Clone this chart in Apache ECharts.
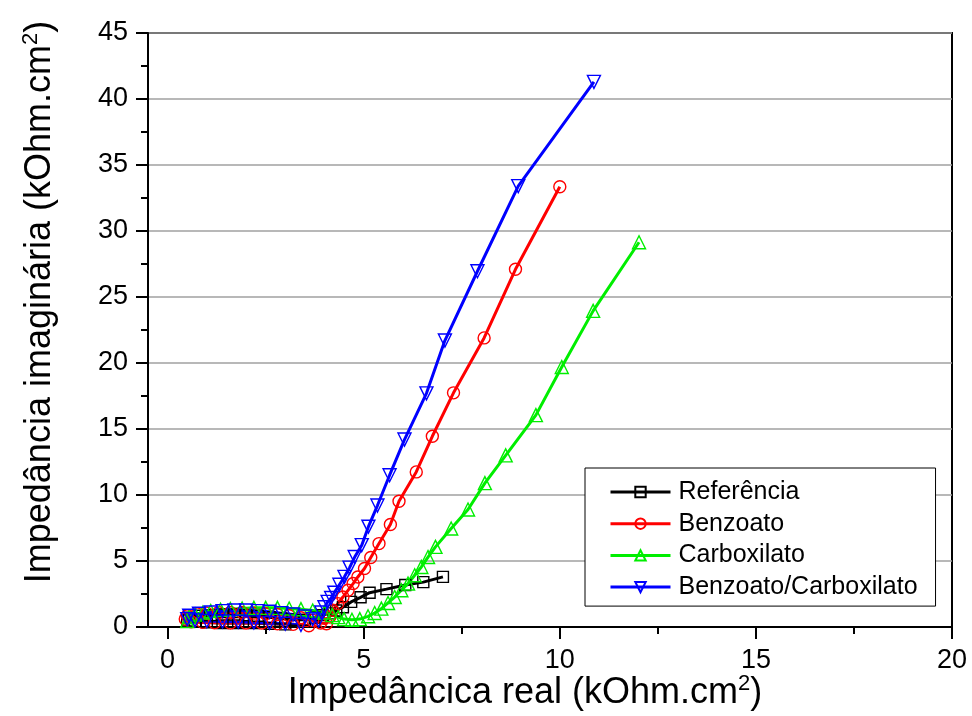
<!DOCTYPE html>
<html>
<head>
<meta charset="utf-8">
<script src="https://cdn.jsdelivr.net/npm/echarts@6/dist/echarts.min.js"></script>
<style>
  html, body { margin: 0; padding: 0; background: #fff; }
  #chart { width: 972px; height: 716px; }
</style>
</head>
<body>
<div id="chart"></div>
<script>
// Referência
const refX = [3.0, 2.6, 2.2, 1.8, 1.4, 1.0, 0.7, 0.5, 0.55, 0.8, 1.1, 1.4, 1.7, 2.0, 2.3, 2.6, 2.9, 3.2, 3.5, 3.75, 3.95, 4.13, 4.3, 4.47, 4.68, 4.92, 5.15, 5.58, 6.06, 6.52, 7.02];
const refY = [0.2, 0.25, 0.3, 0.3, 0.3, 0.35, 0.4, 0.5, 0.7, 0.85, 0.9, 0.95, 0.95, 0.9, 0.85, 0.75, 0.65, 0.55, 0.55, 0.7, 0.9, 1.03, 1.25, 1.5, 1.9, 2.25, 2.6, 2.87, 3.18, 3.4, 3.8];
// Benzoato
const benX = [3.6, 3.2, 2.8, 2.4, 2.0, 1.6, 1.2, 0.9, 0.6, 0.45, 0.5, 0.75, 1.0, 1.3, 1.6, 1.9, 2.2, 2.5, 2.8, 3.1, 3.4, 3.7, 3.9, 4.05, 4.13, 4.21, 4.34, 4.47, 4.6, 4.73, 4.85, 5.02, 5.18, 5.39, 5.68, 5.9, 6.34, 6.75, 7.29, 8.07, 8.87, 10.0];
const benY = [0.1, 0.2, 0.25, 0.3, 0.3, 0.3, 0.32, 0.35, 0.4, 0.6, 0.85, 1.0, 1.05, 1.1, 1.1, 1.1, 1.05, 1.0, 0.95, 0.85, 0.7, 0.5, 0.3, 0.25, 0.76, 1.27, 1.77, 2.27, 2.78, 3.29, 3.79, 4.43, 5.26, 6.32, 7.76, 9.53, 11.75, 14.45, 17.74, 21.9, 27.1, 33.35];
// Carboxilato
const carX = [0.5, 0.55, 0.7, 0.9, 1.1, 1.35, 1.6, 1.9, 2.2, 2.5, 2.8, 3.1, 3.4, 3.7, 4.0, 4.2, 4.35, 4.5, 4.7, 4.9, 5.11, 5.28, 5.45, 5.62, 5.79, 5.96, 6.13, 6.3, 6.47, 6.64, 6.83, 7.23, 7.66, 8.09, 8.62, 9.39, 10.05, 10.85, 12.02];
const carY = [0.45, 0.75, 0.95, 1.1, 1.2, 1.3, 1.35, 1.4, 1.45, 1.45, 1.45, 1.4, 1.35, 1.25, 1.1, 0.9, 0.75, 0.6, 0.55, 0.6, 0.81, 1.06, 1.39, 1.82, 2.27, 2.78, 3.29, 3.92, 4.55, 5.3, 6.07, 7.46, 8.9, 10.9, 13.0, 16.05, 19.7, 23.95, 29.15];
// Benzoato/Carboxilato
const bcX = [3.4, 3.0, 2.6, 2.2, 1.8, 1.4, 1.0, 0.7, 0.5, 0.55, 0.8, 1.1, 1.4, 1.7, 2.0, 2.3, 2.6, 2.9, 3.2, 3.5, 3.7, 3.85, 3.92, 4.0, 4.08, 4.17, 4.25, 4.38, 4.51, 4.64, 4.77, 4.95, 5.12, 5.35, 5.66, 6.04, 6.6, 7.07, 7.9, 8.94, 10.87];
const bcY = [0.15, 0.25, 0.3, 0.35, 0.4, 0.42, 0.45, 0.5, 0.6, 0.85, 1.0, 1.1, 1.2, 1.25, 1.25, 1.2, 1.15, 1.05, 0.95, 0.8, 0.6, 0.5, 1.1, 1.5, 1.9, 2.2, 2.6, 3.2, 3.8, 4.5, 5.3, 6.2, 7.6, 9.2, 11.5, 14.2, 17.7, 21.7, 26.95, 33.4, 41.3];

const xMajor = [0, 5, 10, 15, 20];
const xMinor = [2.5, 7.5, 12.5, 17.5];
const yMinor = [2.5, 7.5, 12.5, 17.5, 22.5, 27.5, 32.5, 37.5, 42.5];

const font = "'Liberation Sans', Arial, sans-serif";
const zip = (xs, ys) => xs.map((x, i) => [x, ys[i]]);

function makeSeries(name, xs, ys, color, symbol, size) {
  return {
    name: name,
    type: 'line',
    data: zip(xs, ys),
    symbol: symbol,
    symbolSize: size,
    showAllSymbol: true,
    xAxisIndex: 0,
    yAxisIndex: 0,
    lineStyle: { color: color, width: 3 },
    itemStyle: { color: 'rgba(0,0,0,0)', borderColor: color, borderWidth: 1.4 },
    emphasis: { disabled: true },
    animation: false
  };
}

const chart = echarts.init(document.getElementById('chart'));
const option = {
  backgroundColor: '#fff',
  animation: false,
  grid: { left: 148, right: 20, top: 33, bottom: 89, show: true, borderColor: '#000', borderWidth: 2, backgroundColor: 'transparent' },
  legend: {
    orient: 'vertical',
    left: 585,
    top: 468,
    padding: [9, 18, 4, 24],
    itemWidth: 60,
    itemHeight: 13,
    itemGap: 1.7,
    borderColor: '#000',
    borderWidth: 1,
    backgroundColor: '#fff',
    lineStyle: { width: 3 },
    textStyle: { fontFamily: font, fontSize: 25, color: '#000', lineHeight: 30, padding: [0, 0, 0, 3] },
    data: ['Referência', 'Benzoato', 'Carboxilato', 'Benzoato/Carboxilato']
  },
  xAxis: [
    {
      type: 'value', min: -0.5, max: 20,
      axisLine: { onZero: false, lineStyle: { color: '#000', width: 2 } },
      axisTick: { show: true, inside: false, length: 12, customValues: xMajor, lineStyle: { color: '#000', width: 2 } },
      axisLabel: { customValues: xMajor, margin: 20, fontFamily: font, fontSize: 27, color: '#000' },
      splitLine: { show: false }
    },
    {
      type: 'value', min: -0.5, max: 20, position: 'bottom',
      axisLine: { show: false, onZero: false },
      axisTick: { show: true, inside: false, length: 7, customValues: xMinor, lineStyle: { color: '#000', width: 2 } },
      axisLabel: { show: false },
      splitLine: { show: false }
    }
  ],
  yAxis: [
    {
      type: 'value', min: 0, max: 45, interval: 5,
      axisLine: { onZero: false, lineStyle: { color: '#000', width: 2 } },
      axisTick: { show: true, inside: false, length: 12, lineStyle: { color: '#000', width: 2 } },
      axisLabel: { margin: 20, fontFamily: font, fontSize: 27, color: '#000', showMinLabel: true, showMaxLabel: true },
      splitLine: { show: true, lineStyle: { color: '#a0a0a0', width: 1.5 } }
    },
    {
      type: 'value', min: 0, max: 45, position: 'left',
      axisLine: { show: false, onZero: false },
      axisTick: { show: true, inside: false, length: 7, customValues: yMinor, lineStyle: { color: '#000', width: 2 } },
      axisLabel: { show: false },
      splitLine: { show: false }
    }
  ],
  graphic: [
    {
      type: 'text', x: 40, y: 302, rotation: Math.PI / 2,
      style: {
        text: '{n|Impedância imaginária (kOhm.cm}{s|2}{n|)}',
        align: 'center', verticalAlign: 'middle', fill: '#000',
        rich: {
          n: { fontFamily: font, fontSize: 36, lineHeight: 40, fill: '#000' },
          s: { fontFamily: font, fontSize: 22, lineHeight: 40, verticalAlign: 'top', fill: '#000' }
        }
      }
    },
    {
      type: 'text', x: 525, y: 693,
      style: {
        text: '{n|Impedâncica real (kOhm.cm}{s|2}{n|)}',
        align: 'center', verticalAlign: 'middle', fill: '#000',
        rich: {
          n: { fontFamily: font, fontSize: 36, lineHeight: 40, fill: '#000' },
          s: { fontFamily: font, fontSize: 22, lineHeight: 40, verticalAlign: 'top', fill: '#000' }
        }
      }
    }
  ],
  series: [
    makeSeries('Referência', refX, refY, '#000000', 'rect', 11),
    makeSeries('Benzoato', benX, benY, '#ff0000', 'circle', 12),
    makeSeries('Carboxilato', carX, carY, '#00ee00', 'triangle', 13),
    makeSeries('Benzoato/Carboxilato', bcX, bcY, '#0000ff', 'triangle', 13)
  ]
};
// triangle pointing down for the last series
option.series[3].symbolRotate = 180;
chart.setOption(option);
</script>
</body>
</html>
